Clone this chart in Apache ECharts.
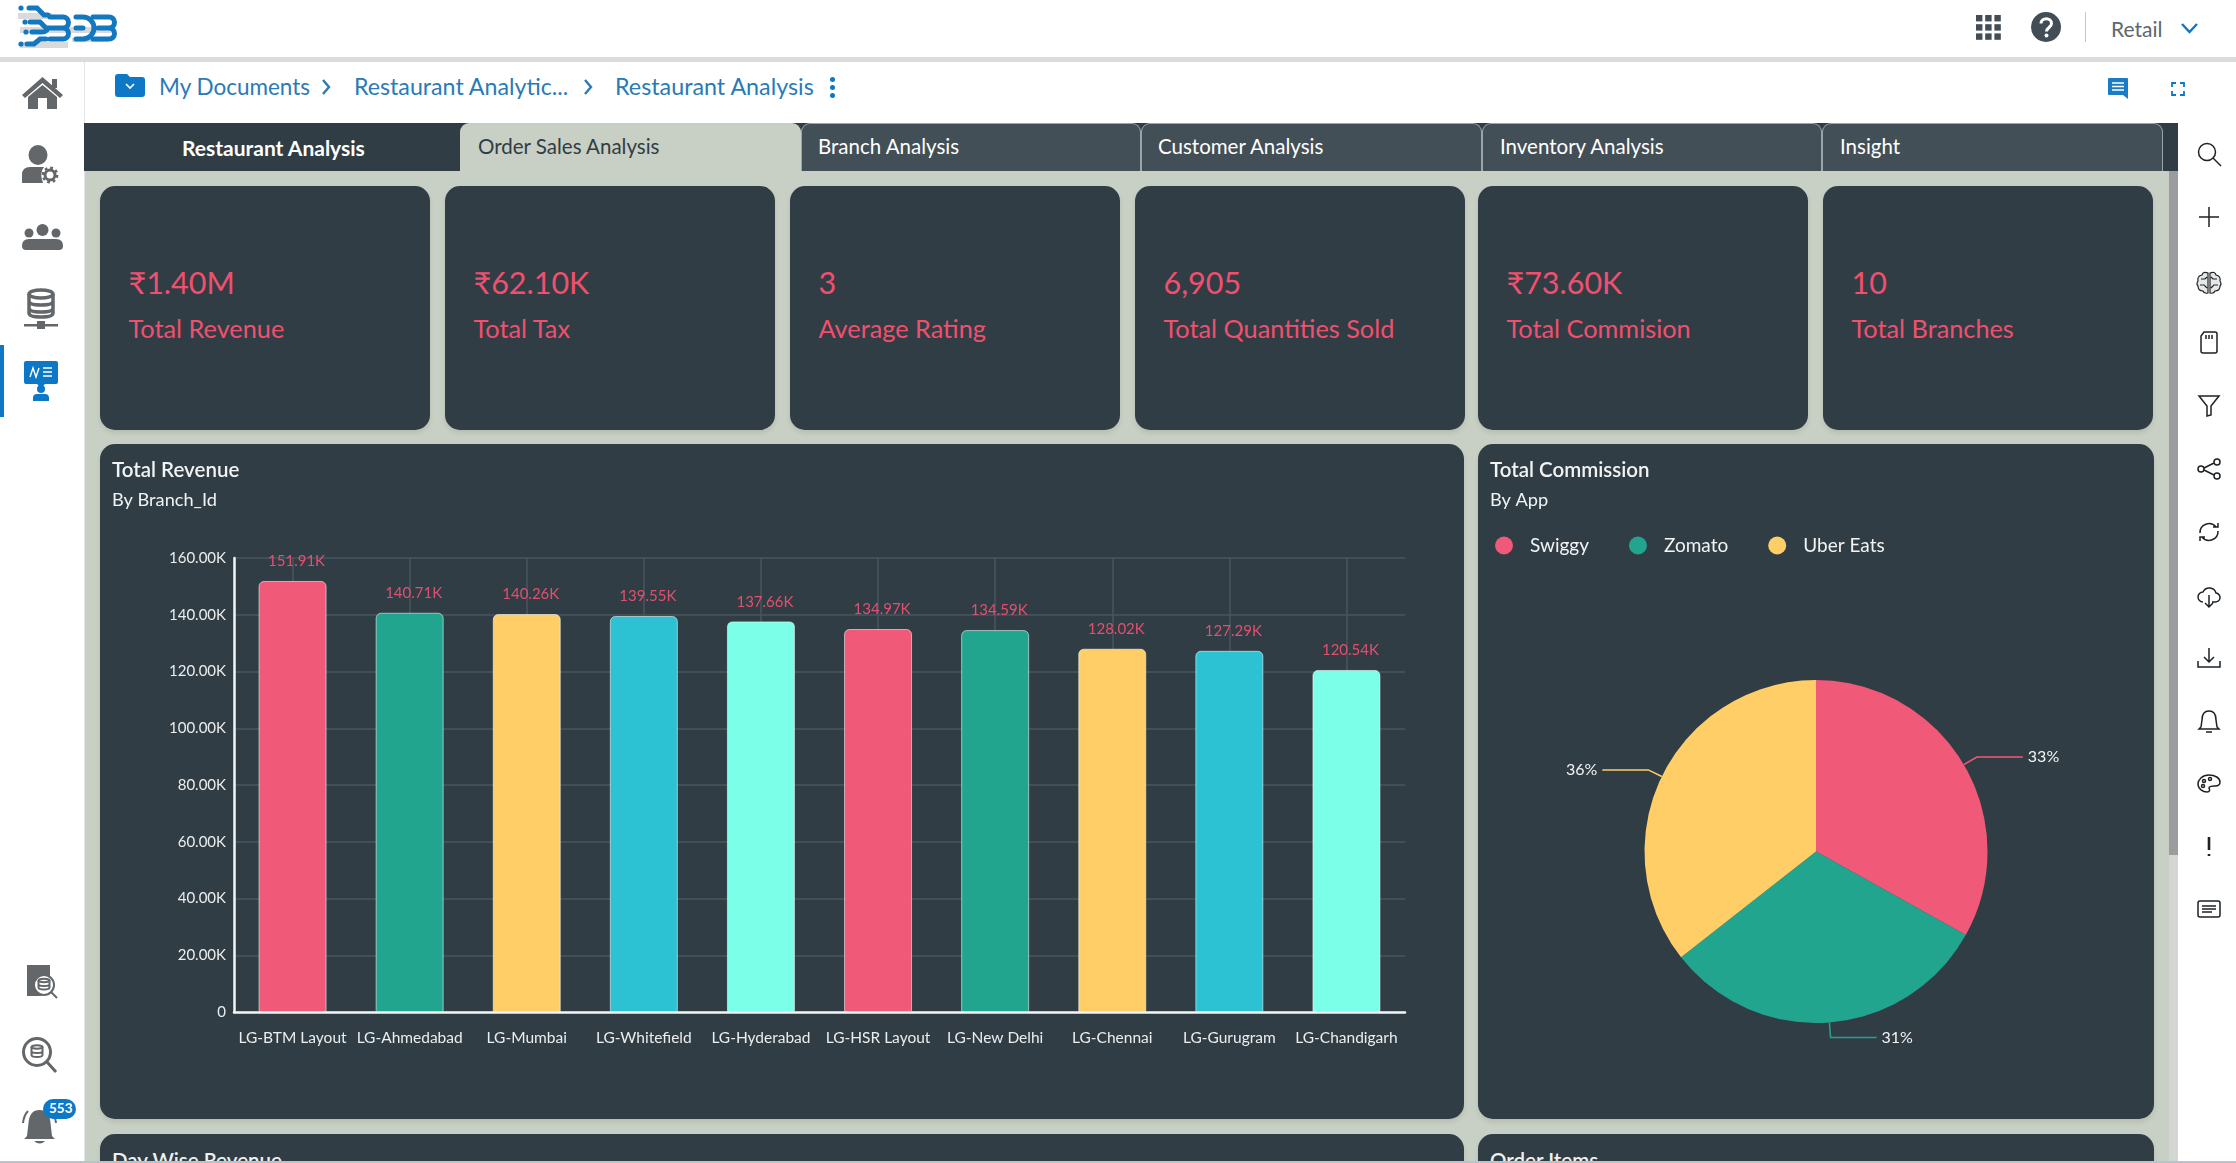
<!DOCTYPE html>
<html><head><meta charset="utf-8">
<script src="https://cdn.jsdelivr.net/npm/echarts@6/dist/echarts.min.js"></script>
<style>
*{box-sizing:border-box}
html,body{margin:0;padding:0;width:2236px;height:1163px;overflow:hidden;background:#fff;font-family:Lato,"Noto Sans",sans-serif}
.a{position:absolute}
.t{position:absolute;white-space:nowrap;line-height:1;transform:translateY(-50%)}
.card{position:absolute;background:#303d45;border-radius:15px;box-shadow:0 3px 4px rgba(60,70,60,.12);overflow:hidden}
.tab{position:absolute;top:123px;height:48px;background:#434f57;border:1px solid #9aa5aa;border-bottom:0;border-radius:9px 9px 0 0}
svg{position:absolute;overflow:visible}
#chart{position:absolute;left:0;top:0;width:2236px;height:1163px}
</style></head><body>
<div id="page"></div>
<div id="chart"></div>
<script>
// ---- chart data ----
const branches = ['LG-BTM Layout','LG-Ahmedabad','LG-Mumbai','LG-Whitefield','LG-Hyderabad','LG-HSR Layout','LG-New Delhi','LG-Chennai','LG-Gurugram','LG-Chandigarh'];
const revenue = [151910,140710,140260,139550,137660,134970,134590,128020,127290,120540];
const barColors = ['#f05a78','#22a58e','#ffce66','#2cc2d3','#7bffe8'];
const apps = ['Swiggy','Zomato','Uber Eats'];
const commission = [24360,23050,26190];
const appColors = ['#f05a78','#22a58e','#ffce66'];
const kpiValues = ['₹1.40M','₹62.10K','3','6,905','₹73.60K','10'];
const kpiLabels = ['Total Revenue','Total Tax','Average Rating','Total Quantities Sold','Total Commision','Total Branches'];
const tabNames = ['Order Sales Analysis','Branch Analysis','Customer Analysis','Inventory Analysis','Insight'];

// ---- page chrome ----
const page = document.getElementById('page');
function add(html){page.insertAdjacentHTML('beforeend',html);}
function box(x,y,w,h,c,extra){add(`<div class="a" style="left:${x}px;top:${y}px;width:${w}px;height:${h}px;background:${c};${extra||''}"></div>`);}
function text(x,y,s,size,c,extra){add(`<div class="t" style="left:${x}px;top:${y}px;font-size:${size}px;color:${c};${extra||''}">${s}</div>`);}
function svg(x,y,w,h,vb,inner){add(`<svg style="left:${x}px;top:${y}px" width="${w}" height="${h}" viewBox="${vb}">${inner}</svg>`);}

// frame
box(84,171,2094,992,'#c8cfc4');
box(0,57,2236,5,'#dcdcdc');
box(84,62,1,1101,'#e4e6e6');
box(0,345,4,72,'#0d78c5');
box(84,123,2094,48,'#303d45');
box(2169,171,9,684,'#9a9c9e');
box(2169,855,9,308,'#d4d6d4');

// tabs
text(182,147,'Restaurant Analysis',21,'#fff','font-weight:700');
box(460,123,341,48,'#c8cfc4','border-radius:9px 9px 0 0');
text(478,146,tabNames[0],20.5,'#303d45');
[[801,818,1],[1141,1158,2],[1482,1500,3],[1822,1840,4]].forEach(([x,tx,i],k)=>{
  const w=[340,341,340,341][k];
  add(`<div class="tab" style="left:${x}px;width:${w}px"></div>`);
  text(tx,146,tabNames[i],20.5,'#fff');
});

// KPI cards
[100,445,790,1135,1478,1823].forEach((x,i)=>{
  add(`<div class="card" style="left:${x}px;top:186px;width:330px;height:244px"></div>`);
  text(x+28.500,282,kpiValues[i],30.500,'#f0506e');
  text(x+28.500,329,kpiLabels[i],25.300,'#f0506e');
});

// chart cards
add('<div class="card" style="left:100px;top:444px;width:1364px;height:675px"></div>');
add('<div class="card" style="left:1478px;top:444px;width:676px;height:675px"></div>');
add('<div class="card" style="left:100px;top:1134px;width:1364px;height:60px"></div>');
add('<div class="card" style="left:1478px;top:1134px;width:676px;height:60px"></div>');
text(112,1160,'Day Wise Revenue',20.500,'#eef0f0','font-weight:600');
text(1490,1160,'Order Items',20.500,'#eef0f0','font-weight:600');
box(0,1161,2236,2,'#b9c4c8');

// breadcrumb
const blue='#2a7ab8';
svg(115,74,30,23,'0 0 30 23','<path d="M3 0h9l3 3h12a3 3 0 0 1 3 3v14a3 3 0 0 1-3 3H3a3 3 0 0 1-3-3V3a3 3 0 0 1 3-3z" fill="#0d78c5"/><path d="M11 10l4 4 4-4" fill="none" stroke="#fff" stroke-width="1.6"/>');
text(159,87,'My Documents',22.500,blue);
text(354,87,'Restaurant Analytic...',23.200,blue);
text(615,87,'Restaurant Analysis',23.300,blue);
[322,584].forEach(x=>svg(x,79,9,16,'0 0 9 16','<path d="M1 1l6 7-6 7" fill="none" stroke="#2a7ab8" stroke-width="2.4"/>'));
[79,87,95].forEach(y=>svg(830,y-2,5,5,'0 0 5 5','<circle cx="2.5" cy="2.5" r="2.5" fill="#0d78c5"/>'));

// header right
const gridDots=[];for(let r=0;r<3;r++)for(let c=0;c<3;c++)gridDots.push(`<rect x="${c*9.2}" y="${r*9.2}" width="6.4" height="6.4" fill="#424d55"/>`);
svg(1976,15,25,25,'0 0 25 25',gridDots.join(''));
svg(2031,12,30,30,'0 0 30 30','<circle cx="15" cy="15" r="15" fill="#424d55"/><path d="M10 11.5c0-6.5 10.5-6.5 10.5 0 0 4-5 4-5 8" fill="none" stroke="#fff" stroke-width="3"/><circle cx="15.5" cy="23.5" r="2" fill="#fff"/>');
box(2085,12,1,30,'#c4c8ca');
text(2111,28,'Retail',21,'#5c6770');
svg(2181,23,17,10,'0 0 17 10','<path d="M1 1l7.5 8L16 1" fill="none" stroke="#0d78c5" stroke-width="2.4"/>');
svg(2108,78,20,21,'0 0 20 21','<path d="M1 0h18a1 1 0 0 1 1 1v20l-5-4H1a1 1 0 0 1-1-1V1a1 1 0 0 1 1-1z" fill="#1a7cc4"/><path d="M4 5h12M4 8.5h12M4 12h12" stroke="#fff" stroke-width="1.5"/>');
svg(2171,82,14,14,'0 0 14 14','<path d="M1 5V1h4M9 1h4v4M13 9v4H9M5 13H1V9" fill="none" stroke="#0d78c5" stroke-width="1.8"/>');

// logo (drawn mark)
svg(0,0,130,60,'0 0 130 60','<g fill="#dadada"><rect x="18" y="13" width="34" height="6"/><rect x="20" y="27" width="95" height="6"/><rect x="20" y="42" width="48" height="6"/><rect x="72" y="38" width="36" height="4"/></g>'+
 '<g fill="none" stroke="#1378bf" stroke-width="5" stroke-linecap="round">'+
 '<path d="M50 17H63a5.500 5.500 0 0 1 0 11H54M54 28H63a5.500 5.500 0 0 1 0 11H50"/>'+
 '<path d="M76 17h7a11 11 0 0 1 0 22h-7M76 28h7"/>'+
 '<path d="M93 17H109a5.500 5.500 0 0 1 0 11H98M98 28H109a5.500 5.500 0 0 1 0 11H93"/>'+
 '<path d="M29 8H37l7 7h4M30 22H40l6 6h6M32 32H42q3 0 5-2M27 44H34l6-5H46"/></g>'+
 '<g fill="#1378bf"><circle cx="21" cy="8" r="2.600"/><circle cx="25" cy="22" r="2.600"/><circle cx="26" cy="32" r="2.600"/><circle cx="21" cy="44" r="2.600"/></g>');

// left rail icons
const g='#63676a';
svg(22,77,41,32,'0 0 41 32',`<path d="M20.5 0L41 18l-3 3L20.5 6 3 21l-3-3z" fill="${g}"/><path d="M6 20L20.5 8 35 20v12H25V21h-9v11H6z" fill="${g}"/><rect x="30" y="2" width="5" height="9" fill="${g}"/>`);
svg(22,145,36,38,'0 0 36 38',`<ellipse cx="16" cy="10" rx="9.500" ry="10" fill="${g}"/><path d="M0 38V30q0-8 8-8h14q-5 6-1 16z" fill="${g}"/><circle cx="28" cy="30" r="5" fill="none" stroke="${g}" stroke-width="3"/><circle cx="28" cy="30" r="7.200" fill="none" stroke="${g}" stroke-width="2.400" stroke-dasharray="2.800 2.850"/>`);
svg(22,224,41,26,'0 0 41 26',`<circle cx="20.5" cy="6" r="6" fill="${g}"/><circle cx="7" cy="9" r="4.5" fill="${g}"/><circle cx="34" cy="9" r="4.5" fill="${g}"/><path d="M0 22q0-7 7-7h27q7 0 7 7 0 4-4 4H4q-4 0-4-4z" fill="${g}"/>`);
svg(24,289,34,40,'0 0 34 40',`<g fill="none" stroke="${g}" stroke-width="3.5"><ellipse cx="17" cy="5" rx="12" ry="4"/><path d="M5 5v7q0 4 12 4t12-4V5M5 12v7q0 4 12 4t12-4v-7M5 19v5q0 4 12 4t12-4v-5"/></g><rect x="0" y="35" width="34" height="2.5" fill="${g}"/><rect x="13" y="32" width="8" height="8" fill="${g}"/>`);
svg(24,361,34,40,'0 0 34 40','<path d="M2 0h30a2 2 0 0 1 2 2v19a2 2 0 0 1-2 2H21l-4 4-4-4H2a2 2 0 0 1-2-2V2a2 2 0 0 1 2-2z" fill="#0d78c5"/><path d="M6 16l3-9 3 9 3-9M19 7h9M19 11h9M19 15h9" fill="none" stroke="#fff" stroke-width="1.4"/><circle cx="17" cy="28" r="4" fill="#0d78c5"/><path d="M9 40v-3q0-4 4-4h8q4 0 4 4v3z" fill="#0d78c5"/>');
svg(24,965,33,35,'0 0 33 35',`<path d="M3 0h23v12a11 11 0 0 0-8 19H3z" fill="${g}"/><circle cx="20" cy="20" r="10" fill="#fff" stroke="${g}" stroke-width="2"/><g fill="none" stroke="${g}" stroke-width="2"><ellipse cx="20" cy="15.500" rx="5.500" ry="1.800"/><path d="M14.500 15.500v7q0 2 5.500 2t5.500-2v-7M14.500 19q0 2 5.500 2t5.500-2"/><path d="M27 27l6 6"/></g>`);
svg(22,1037,35,36,'0 0 35 36',`<circle cx="15" cy="15" r="13.500" fill="none" stroke="${g}" stroke-width="3"/><path d="M25 25l9 10" stroke="${g}" stroke-width="3"/><g fill="none" stroke="${g}" stroke-width="2"><ellipse cx="15" cy="10" rx="5.500" ry="1.800"/><path d="M9.500 10v8q0 2 5.500 2t5.500-2v-8M9.500 14q0 2 5.500 2t5.500-2"/></g>`);
svg(22,1108,35,37,'0 0 35 37',`<path d="M17.500 2q10 0 11 13l1.500 13 3 3H2l3-3 1.500-13q1-13 11-13z" fill="${g}"/><path d="M12 33h11q-5 5-11 0z" fill="${g}"/><path d="M1 15Q2 7 6 3M34 15Q33 7 29 3" fill="none" stroke="${g}" stroke-width="2"/>`);
box(43,1099,33,20,'#0d78c5','border-radius:10px/10px');
text(49,1108.5,'553',13.5,'#fff','font-weight:700');

// right rail icons, centre x 2209
const k='#1d2226';
const railIcons=[
 '<circle cx="10" cy="10" r="8.500"/><path d="M16 16l8 8"/>',
 '<path d="M12 2v20M2 12h20"/>',
 '<path d="M11 2q-5-2-6 2-5 1-4 6-2 3 0 5 0 5 5 5 1 3 5 2zM13 2q5-2 6 2 5 1 4 6 2 3 0 5 0 5-5 5-1 3-5 2zM4 8h4l2-2M3 14h4l3 3M20 8h-4l-2-2M21 14h-4l-3 3" fill="#e6e8e8" stroke-width="1.200"/>',
 '<path d="M7 2h11a2 2 0 0 1 2 2v17a2 2 0 0 1-2 2H6a2 2 0 0 1-2-2V6zM9 5v4M12 5v4M15 5v4"/>',
 '<path d="M2 3h20l-8 10v9l-4 1V13z"/>',
 '<circle cx="4" cy="12" r="3"/><circle cx="20" cy="5" r="3"/><circle cx="20" cy="19" r="3"/><path d="M7 11l10-5M7 13l10 5"/>',
 '<path d="M3 13A9 9 0 0 1 19 7M21 11A9 9 0 0 1 5 17M16 7h5V3M8 17H3v4"/>',
 '<path d="M6 18a5 5 0 0 1 0-10 7 7 0 0 1 13 1 4.500 4.500 0 0 1-1 9h-3M12 11v12M8 19l4 4 4-4"/>',
 '<path d="M12 2v14M7 11l5 5 5-5M1 15v6h22v-6"/>',
 '<path d="M12 2q7 0 7 9l1 7 2 2H2l2-2 1-7q0-9 7-9zM9 23h6"/>',
 '<path d="M12 3C5 3 1 8 1 12c0 5 5 8 9 8 3 0 3-2 2-4 0-2 3-2 6-2 4 0 5-2 5-4 0-4-5-7-11-7z"/><circle cx="7" cy="9" r="1.500"/><circle cx="13" cy="7" r="1.500"/><circle cx="6" cy="14" r="1.500"/>',
 '<path d="M12 3v13M12 20v2" stroke-width="2.600"/>',
 '<rect x="1" y="4" width="22" height="16" rx="2"/><path d="M5 9h14M5 12h14M5 15h10"/>'];
const railY=[154,217,283,342,405,469,532,596,658,721,784,846,909];
railIcons.forEach((p,i)=>svg(2197,railY[i]-12,24,24,'0 0 24 24',`<g fill="none" stroke="${k}" stroke-width="1.500">${p}</g>`));

// ---- ECharts ----
const fmtK = v => v===0 ? '0' : (v/1000).toFixed(2)+'K';
const textFont = 'Lato';
const chart = echarts.init(document.getElementById('chart'), null, {renderer:'canvas', width:2236, height:1163});
chart.setOption({
  animation:false,
  backgroundColor:'transparent',
  title:[
    {text:'Total Revenue',subtext:'By Branch_Id',left:112,top:460,itemGap:10,padding:0,
     textStyle:{color:'#f2f3f3',fontSize:20.5,fontWeight:600,fontFamily:textFont},
     subtextStyle:{color:'#f2f3f3',fontSize:18.2,fontFamily:textFont}},
    {text:'Total Commission',subtext:'By App',left:1490,top:460,itemGap:10,padding:0,
     textStyle:{color:'#f2f3f3',fontSize:20.5,fontWeight:600,fontFamily:textFont},
     subtextStyle:{color:'#f2f3f3',fontSize:18.2,fontFamily:textFont}}
  ],
  legend:{data:apps,left:1495,top:536,icon:'circle',itemWidth:18,itemHeight:18,itemGap:40,padding:0,
    textStyle:{color:'#f2f3f3',fontSize:19,fontFamily:textFont,padding:[0,0,0,12]}},
  grid:{left:234,top:558,width:1171,height:454,containLabel:false},
  xAxis:{type:'category',data:branches,
    axisLine:{lineStyle:{color:'#f4f6f6',width:2.5}},axisTick:{show:false},
    axisLabel:{color:'#eceeee',fontSize:15.5,fontFamily:textFont,margin:18,interval:0},
    splitLine:{show:true,alignWithLabel:true,lineStyle:{color:'#4a565c',width:1.5}}},
  yAxis:{type:'value',min:0,max:160000,interval:20000,
    axisLine:{show:true,lineStyle:{color:'#f4f6f6',width:2.5}},axisTick:{show:false},
    axisLabel:{color:'#eceeee',fontSize:15,fontFamily:textFont,margin:8,formatter:fmtK},
    splitLine:{show:true,lineStyle:{color:'#4a565c',width:1.5}}},
  series:[
    {type:'bar',barWidth:68,
     data:revenue.map((v,i)=>({value:v,itemStyle:{color:barColors[i%barColors.length]}})),
     itemStyle:{borderRadius:[5,5,0,0],borderColor:'rgba(255,255,255,.55)',borderWidth:1},
     label:{show:true,position:'top',distance:12,offset:[4,0],color:'#e2506f',fontSize:15,fontFamily:textFont,
       formatter:p=>fmtK(p.value)}},
    {type:'pie',center:[1816,851.5],radius:[0,171.5],percentPrecision:0,
     data:apps.map((n,i)=>({name:n,value:commission[i],itemStyle:{color:appColors[i]}})),
     label:{show:true,formatter:'{d}%',color:'#f2f3f3',fontSize:16,fontFamily:textFont},
     labelLine:{show:true,length:15,length2:46,lineStyle:{width:1.5}}}
  ]
});
</script>
</body></html>
